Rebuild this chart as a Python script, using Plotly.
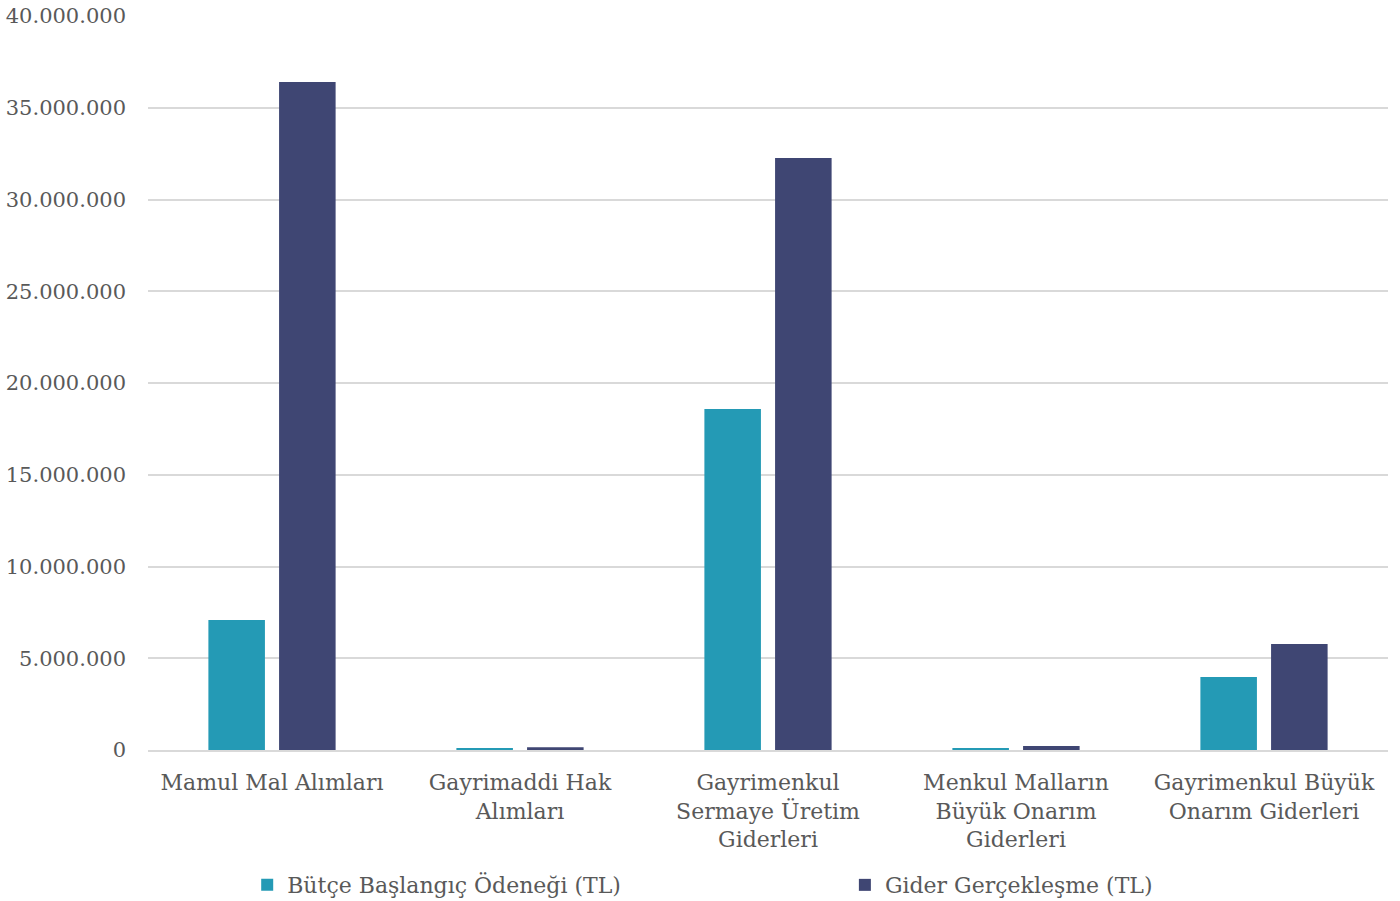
import plotly.graph_objects as go

categories = [
    "Mamul Mal Alımları",
    "Gayrimaddi Hak<br>Alımları",
    "Gayrimenkul<br>Sermaye Üretim<br>Giderleri",
    "Menkul Malların<br>Büyük Onarım<br>Giderleri",
    "Gayrimenkul Büyük<br>Onarım Giderleri",
]
butce = [7080000, 110000, 18580000, 100000, 3980000]
gider = [36400000, 150000, 32260000, 220000, 5780000]
series_names = ["Bütçe Başlangıç Ödeneği (TL)", "Gider Gerçekleşme (TL)"]
colors = ["#249AB5", "#3F4673"]
ytick_vals = [0, 5000000, 10000000, 15000000, 20000000, 25000000, 30000000, 35000000, 40000000]

FONT = "DejaVu Serif"
TXT = "#595959"

fig = go.Figure()
for i, (name, vals, col) in enumerate(zip(series_names, [butce, gider], colors)):
    fig.add_trace(go.Bar(x=categories, y=vals, name=name,
                         marker=dict(color=col, line=dict(width=0)),
                         legend="legend" if i == 0 else "legend2"))

legend_common = dict(orientation="h", y=-0.184, xanchor="left", yanchor="middle",
                     font=dict(family=FONT, size=22, color=TXT), itemclick=False,
                     bgcolor="rgba(0,0,0,0)")

fig.update_layout(
    width=1400, height=901,
    barmode="group", bargap=0.43, bargroupgap=0.2,
    separators=",.",
    paper_bgcolor="white", plot_bgcolor="white",
    margin=dict(l=148, r=12, t=16, b=151, autoexpand=False),
    font=dict(family=FONT, size=21, color=TXT),
    yaxis=dict(range=[0, 40000000], tickvals=ytick_vals, tickformat=",d",
               showgrid=True, gridcolor="#D9D9D9", gridwidth=1.5,
               zeroline=False, showline=False, ticks="", ticklabelstandoff=21,
               tickfont=dict(family=FONT, size=21, color=TXT)),
    xaxis=dict(showline=True, linecolor="#D9D9D9", linewidth=1.5, ticks="",
               tickangle=0, ticklabelstandoff=12,
               tickfont=dict(family=FONT, size=22, color=TXT)),
    legend=dict(x=0.080, **legend_common),
    legend2=dict(x=0.562, **legend_common),
    showlegend=True,
)

fig.write_html("out.html", config={"displayModeBar": False},
               post_script="document.body.style.margin='0';")
